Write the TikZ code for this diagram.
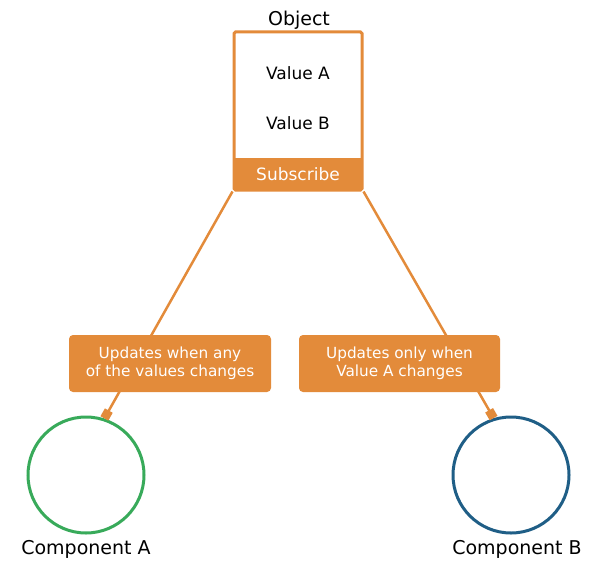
\documentclass[tikz,border=0pt]{standalone}
\usepackage{fontspec}
\setmainfont{DejaVu Sans}
\usetikzlibrary{arrows.meta}
\usetikzlibrary{positioning}
\definecolor{subOrange}{RGB}{227,139,58}
\definecolor{compGreen}{RGB}{56,170,90}
\definecolor{compBlue}{RGB}{31,94,134}
\tikzset{objectBox/.style={draw=subOrange, line width=3pt, rounded corners=1.5pt, minimum width=128pt, minimum height=158pt, inner sep=0pt}}
\tikzset{subscribeBand/.style={fill=subOrange, text=white, minimum width=128pt, minimum height=32pt, inner sep=0pt, font=\fontsize{17}{20}\selectfont}}
\tikzset{plainText/.style={font=\fontsize{17}{20}\selectfont, inner sep=0pt}}
\tikzset{titleText/.style={font=\fontsize{19}{22}\selectfont, inner sep=0pt}}
\tikzset{updateLabel/.style={fill=subOrange, text=white, rounded corners=4pt, minimum height=57pt, align=center, inner sep=0pt, font=\fontsize{15.3}{18.5}\selectfont}}
\tikzset{link/.style={draw=subOrange, line width=2.5pt, -{Square[length=9pt,width=9pt]}}}
\tikzset{component/.style={circle, line width=3pt, minimum size=116pt, inner sep=0pt}}

\begin{document}
\begin{tikzpicture}[x=1pt,y=-1pt]
\useasboundingbox (0,0) rectangle (599,583);
%
% object with its values
\node[subscribeBand] (subscribe) at (298,174) {Subscribe};
\node[objectBox] (object) at (298,111) {};
\node[titleText] (object title) at (299,20) {Object};
\node[plainText] (value a) at (298,73) {Value A};
\node[plainText] (value b) at (298,123) {Value B};
%
% components
\node[component, draw=compGreen] (compA) at (86,475) {};
\node[component, draw=compBlue] (compB) at (511,475) {};
\node[titleText, below=6pt of compA] (compA label) {Component A};
\node[titleText, below=6pt of compB, xshift=6pt] (compB label) {Component B};
%
% subscriptions
\draw[link] (object.south west) -- (compA.72);
\draw[link] (object.south east) -- (compB.107);
\node[updateLabel, minimum width=202pt] (labelA) at (170,363.5) {Updates when any\\of the values changes};
\node[updateLabel, minimum width=201pt] (labelB) at (399.5,363.5) {Updates only when\\Value A changes};
\end{tikzpicture}
\end{document}
